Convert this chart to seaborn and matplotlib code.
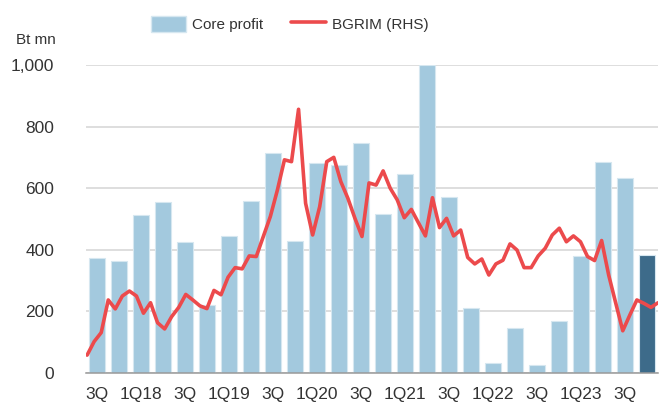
import numpy as np
import pandas as pd
import matplotlib
matplotlib.use('Agg')
import matplotlib.pyplot as plt
import seaborn as sns
from matplotlib.patches import Patch
from matplotlib.lines import Line2D

# quarterly core profit (Bt mn), 3Q17 .. 4Q23
quarters = ['3Q17', '4Q17', '1Q18', '2Q18', '3Q18', '4Q18', '1Q19', '2Q19',
            '3Q19', '4Q19', '1Q20', '2Q20', '3Q20', '4Q20', '1Q21', '2Q21',
            '3Q21', '4Q21', '1Q22', '2Q22', '3Q22', '4Q22', '1Q23', '2Q23',
            '3Q23', '4Q23']
core_profit = [372, 363, 513, 554, 424, 221, 445, 557,
               715, 429, 683, 675, 745, 516, 646, 1000,
               571, 211, 33, 147, 25, 170, 380, 686,
               633, 384]

# BGRIM share price (RHS), rescaled as drawn
bgrim = [58, 102, 131, 237, 208, 250, 266, 250, 194, 228,
         163, 143, 183, 213, 255, 237, 218, 209, 268, 254,
         311, 342, 338, 380, 378, 443, 508, 594, 692, 686,
         856, 551, 448, 540, 686, 700, 621, 567, 502, 443,
         617, 610, 656, 600, 562, 504, 531, 488, 445, 569,
         472, 502, 445, 464, 375, 354, 370, 318, 354, 366,
         419, 399, 342, 342, 380, 405, 448, 470, 426, 445,
         426, 378, 365, 430, 318, 227, 137, 188, 237, 226,
         213, 228]

tick_labels = ['3Q', '1Q18', '3Q', '1Q19', '3Q', '1Q20', '3Q', '1Q21',
               '3Q', '1Q22', '3Q', '1Q23', '3Q']

light = '#a3c9de'
dark = '#3d6b8a'
red = '#ec4a4c'

sns.set_style('white')
plt.rcParams['font.family'] = ['Liberation Sans', 'DejaVu Sans']

df = pd.DataFrame({'quarter': quarters, 'profit': core_profit})
colors = [light] * (len(quarters) - 1) + [dark]

fig = plt.figure(figsize=(6.59, 4.11), dpi=100)
ax = fig.add_axes([0.1305, 0.0925, 0.868, 0.7495])

sns.barplot(data=df, x='quarter', y='profit', hue='quarter', palette=colors,
            saturation=1, legend=False, width=0.77, edgecolor='#d6e7f0',
            linewidth=0.8, ax=ax, zorder=2)

line_x = np.linspace(-0.45, 25.5, len(bgrim))
sns.lineplot(x=line_x, y=bgrim, color=red, linewidth=2.6, ax=ax, zorder=3)

ax.set_xlim(-0.5, 25.5)
ax.set_ylim(0, 1000)
ax.set_xlabel('')
ax.set_ylabel('')

ax.set_yticks([0, 200, 400, 600, 800, 1000])
ax.set_yticklabels(['0', '200', '400', '600', '800', '1,000'])
ax.yaxis.grid(True, color='#d4d4d4', linewidth=1.1, zorder=0)
ax.set_axisbelow(True)
ax.tick_params(axis='y', length=0, pad=23, labelsize=12.5, labelcolor='#333333')

ax.set_xticks(np.arange(0, len(quarters), 2))
ax.set_xticklabels(tick_labels)
ax.set_xticks(np.arange(-0.5, len(quarters) + 0.5, 1), minor=True)
ax.tick_params(axis='x', which='major', length=0, pad=10, labelsize=12.5,
               labelcolor='#333333')
ax.tick_params(axis='x', which='minor', length=7, width=1.1, color='#999999',
               direction='out')

for s in ['left', 'top', 'right']:
    ax.spines[s].set_visible(False)
ax.spines['bottom'].set_color('#999999')
ax.spines['bottom'].set_linewidth(1.1)

fig.text(0.055, 1 - 40 / 411, 'Bt mn', ha='center', va='center',
         fontsize=11, color='#333333')

handles = [Patch(facecolor=light, edgecolor='#d6e7f0'),
           Line2D([0], [0], color=red, linewidth=2.6)]
fig.legend(handles, ['Core profit', 'BGRIM (RHS)'], loc='center',
           bbox_to_anchor=(0.44, 1 - 24 / 411), ncol=2, frameon=False,
           fontsize=11, handlelength=2.3, handleheight=1.3,
           columnspacing=1.8, handletextpad=0.4, labelcolor='#333333')

fig.savefig('out.png', dpi=100)
